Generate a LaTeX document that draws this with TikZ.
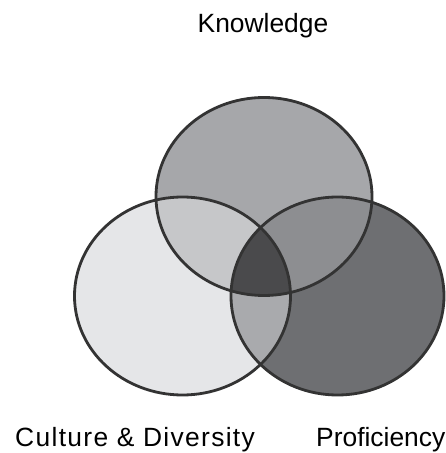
\documentclass[tikz,border=0pt]{standalone}
\usepackage{fontspec}
\setmainfont{Liberation Sans}
\newfontfamily\widefont[LetterSpace=5]{Liberation Sans}

% shades of grey for the regions
\definecolor{knowgray}{HTML}{A6A7AA}
\definecolor{cultgray}{HTML}{E5E6E8}
\definecolor{profgray}{HTML}{6E6F72}
\definecolor{kcgray}{HTML}{C6C7C9}
\definecolor{kpgray}{HTML}{8D8E91}
\definecolor{cpgray}{HTML}{A9AAAD}
\definecolor{allgray}{HTML}{4A4A4C}
\definecolor{rimgray}{HTML}{333333}

\tikzset{
  rim/.style={draw=rimgray,line width=2.8pt},
  label/.style={inner sep=0pt,font=\fontsize{26.4}{30}\selectfont}
}

\begin{document}
\begin{tikzpicture}[x=1pt,y=1pt]
  \useasboundingbox (0,0) rectangle (445,453);
  \coordinate (know) at (264,256.5);
  \coordinate (cult) at (182.5,157);
  \coordinate (prof) at (337.5,157);

  % single sets
  \fill[knowgray] (know) ellipse (108pt and 99pt);
  \fill[cultgray] (cult) ellipse (108pt and 99pt);
  \fill[profgray] (prof) ellipse (106.5pt and 99pt);

  % overlaps
  \begin{scope}
    \clip (cult) ellipse (108pt and 99pt);
    \fill[cpgray] (prof) ellipse (106.5pt and 99pt);
  \end{scope}
  \begin{scope}
    \clip (know) ellipse (108pt and 99pt);
    \fill[kcgray] (cult) ellipse (108pt and 99pt);
    \fill[kpgray] (prof) ellipse (106.5pt and 99pt);
    \clip (cult) ellipse (108pt and 99pt);
    \fill[allgray] (prof) ellipse (106.5pt and 99pt);
  \end{scope}

  % outlines
  \draw[rim] (know) ellipse (108pt and 99pt);
  \draw[rim] (cult) ellipse (108pt and 99pt);
  \draw[rim] (prof) ellipse (106.5pt and 99pt);

  \node[label,anchor=base] (knowlabel) at (263,420) {Knowledge};
  \node[label,anchor=base west] (cultlabel) at (15,6) {\widefont Culture \& Diversity};
  \node[label,anchor=base west] (proflabel) at (316,6) {Proficiency};
\end{tikzpicture}
\end{document}
